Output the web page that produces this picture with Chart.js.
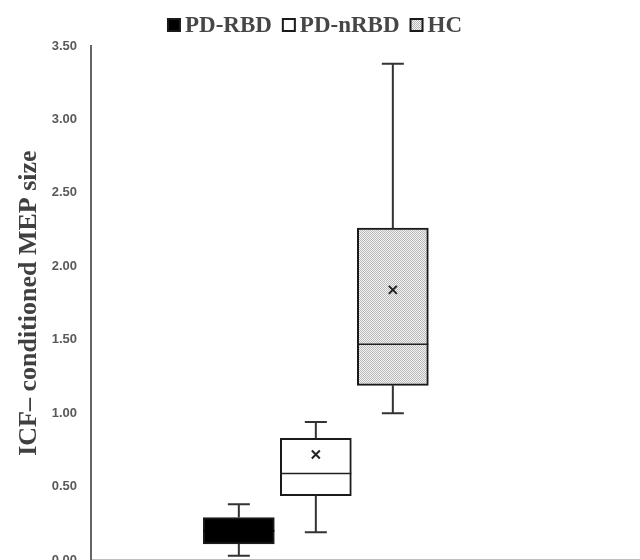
<!DOCTYPE html>
<html>
<head>
<meta charset="utf-8">
<script src="https://cdn.jsdelivr.net/npm/chart.js@4.4.1/dist/chart.umd.min.js"></script>
<style>
  html, body { margin: 0; padding: 0; background: #fff; overflow: hidden; }
  #wrap { width: 640px; height: 582px; }
</style>
</head>
<body>
<div id="wrap"><canvas id="boxChart"></canvas></div>
<script>
// box plot values
const groups = ['PD-RBD', 'PD-nRBD', 'HC'];
const groupPos = [1, 2, 3];
const minVals = [0.03, 0.19, 1.00];
const q1Vals = [0.11, 0.44, 1.19];
const medianVals = [0.20, 0.59, 1.47];
const q3Vals = [0.29, 0.83, 2.26];
const maxVals = [0.38, 0.94, 3.38];
const meanVals = [0.20, 0.72, 1.84];
const yTicks = [0, 0.5, 1, 1.5, 2, 2.5, 3, 3.5];

const canvas = document.getElementById('boxChart');

function dotPattern() {
  const c = document.createElement('canvas');
  c.width = 2; c.height = 2;
  const g = c.getContext('2d');
  g.fillStyle = '#f4f4f4';
  g.fillRect(0, 0, 2, 2);
  g.fillStyle = '#b8b8b8';
  g.fillRect(0, 0, 1, 1);
  g.fillRect(1, 1, 1, 1);
  return canvas.getContext('2d').createPattern(c, 'repeat');
}

const fills = ['#000000', '#ffffff', dotPattern()];

// whiskers, median and mean, placed with the chart's own scales
const boxExtras = {
  id: 'boxExtras',
  afterDatasetsDraw(chart) {
    const ctx = chart.ctx;
    const y = chart.scales.y;
    ctx.save();
    groups.forEach((g, i) => {
      const bar = chart.getDatasetMeta(i).data[0];
      if (!bar) return;
      const cx = bar.x;
      const half = bar.width / 2;
      const cap = 11;
      ctx.strokeStyle = '#333';
      ctx.lineWidth = 2;
      ctx.beginPath();
      ctx.moveTo(cx, y.getPixelForValue(q3Vals[i]));
      ctx.lineTo(cx, y.getPixelForValue(maxVals[i]));
      ctx.moveTo(cx - cap, y.getPixelForValue(maxVals[i]));
      ctx.lineTo(cx + cap, y.getPixelForValue(maxVals[i]));
      ctx.moveTo(cx, y.getPixelForValue(q1Vals[i]));
      ctx.lineTo(cx, y.getPixelForValue(minVals[i]));
      ctx.moveTo(cx - cap, y.getPixelForValue(minVals[i]));
      ctx.lineTo(cx + cap, y.getPixelForValue(minVals[i]));
      ctx.stroke();

      ctx.strokeStyle = i === 0 ? '#000' : '#222';
      ctx.lineWidth = 1.5;
      ctx.beginPath();
      const my = y.getPixelForValue(medianVals[i]);
      ctx.moveTo(cx - half, my);
      ctx.lineTo(cx + half, my);
      ctx.stroke();

      const ay = y.getPixelForValue(meanVals[i]);
      const s = 4;
      ctx.lineWidth = 2;
      ctx.beginPath();
      ctx.moveTo(cx - s, ay - s);
      ctx.lineTo(cx + s, ay + s);
      ctx.moveTo(cx + s, ay - s);
      ctx.lineTo(cx - s, ay + s);
      ctx.stroke();
    });
    ctx.restore();
  }
};

// legend with a tight gap between swatch and text, like the original
const tightLegend = {
  id: 'tightLegend',
  afterDraw(chart) {
    const ctx = chart.ctx;
    const sets = chart.data.datasets;
    const box = 12, gap = 5, between = 11, cy = 25;
    ctx.save();
    ctx.font = 'bold 23px "Liberation Serif"';
    ctx.textBaseline = 'middle';
    const widths = sets.map(d => ctx.measureText(d.label).width);
    let total = widths.reduce((a, w) => a + box + gap + w, 0) + between * (sets.length - 1);
    let x = chart.width / 2 - total / 2 - 5;
    sets.forEach((d, i) => {
      ctx.fillStyle = d.backgroundColor;
      ctx.fillRect(x, cy - box / 2, box, box);
      ctx.strokeStyle = '#1a1a1a';
      ctx.lineWidth = 2;
      ctx.strokeRect(x, cy - box / 2, box, box);
      ctx.fillStyle = '#464646';
      ctx.fillText(d.label, x + box + gap, cy + 1);
      x += box + gap + widths[i] + between;
    });
    ctx.restore();
  }
};

new Chart(canvas, {
  type: 'bar',
  data: {
    datasets: groups.map((g, i) => ({
      label: g,
      data: [{ x: groupPos[i], y: [q1Vals[i], q3Vals[i]] }],
      backgroundColor: fills[i],
      borderColor: '#1a1a1a',
      borderWidth: 2,
      borderSkipped: false,
      grouped: false,
      barThickness: 71
    }))
  },
  options: {
    responsive: true,
    maintainAspectRatio: false,
    animation: false,
    layout: { padding: { left: 14, right: 0, top: 46, bottom: 0 } },
    plugins: {
      tooltip: { enabled: false },
      legend: { display: false }
    },
    scales: {
      x: {
        type: 'linear',
        offset: false,
        min: -0.92,
        max: 6.21,
        ticks: { display: false },
        grid: { display: false, drawTicks: false },
        border: { display: true, color: '#bdbdbd', width: 2 }
      },
      y: {
        min: 0,
        max: 3.5,
        afterBuildTicks: scale => { scale.ticks = yTicks.map(v => ({ value: v })); },
        afterFit: scale => { scale.width = 77; },
        ticks: {
          callback: v => Number(v).toFixed(2),
          color: '#595959',
          padding: 14,
          font: { family: 'Liberation Sans', size: 13, weight: 'bold' }
        },
        grid: { display: false, drawTicks: false },
        border: { display: true, color: '#666', width: 2 },
        title: {
          display: true,
          text: 'ICF– conditioned MEP size',
          color: '#404040',
          padding: { top: 0, bottom: 0 },
          font: { family: 'Liberation Serif', size: 26, weight: 'bold' }
        }
      }
    }
  },
  plugins: [boxExtras, tightLegend]
});
</script>
</body>
</html>
